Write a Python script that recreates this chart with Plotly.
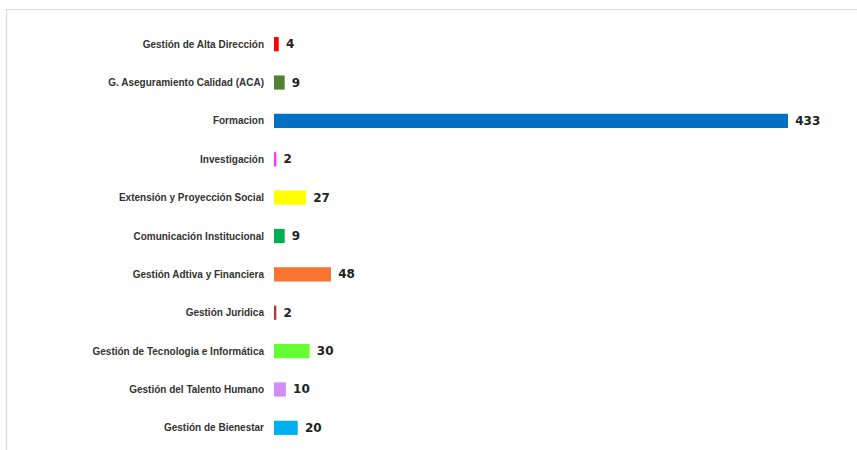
import plotly.graph_objects as go

categories = [
    "Gestión de Alta Dirección",
    "G. Aseguramiento Calidad (ACA)",
    "Formacion",
    "Investigación",
    "Extensión y Proyección Social",
    "Comunicación Institucional",
    "Gestión Adtiva y Financiera",
    "Gestión Juridica",
    "Gestión de Tecnologia e Informática",
    "Gestión del Talento Humano",
    "Gestión de Bienestar",
]
values = [4, 9, 433, 2, 27, 9, 48, 2, 30, 10, 20]
colors = ["#FF0000", "#548235", "#0070C0", "#FF33FF", "#FFFF00", "#00B050",
          "#F87230", "#B03A3A", "#66FF33", "#D38BF5", "#00B0F0"]

W, H = 857, 450
ml, mr, mt, mb = 274, 7, 25, 3
pw = W - ml - mr
ph = H - mt - mb
scale = 514 / 433.0
xmax = pw / scale

fig = go.Figure(go.Bar(
    y=categories, x=values, orientation="h",
    marker=dict(color=colors, line=dict(width=0)),
    text=[f" {v}" for v in values], textposition="outside",
    textfont=dict(family="DejaVu Sans", size=12, color="#222222", weight="bold"),
    cliponaxis=False, width=0.37,
))

def px_x(p):
    return (p - ml) / pw

def px_y(p):
    return 1 - (p - mt) / ph

fig.update_layout(
    width=W, height=H,
    margin=dict(l=ml, r=mr, t=mt, b=mb),
    paper_bgcolor="white", plot_bgcolor="white",
    showlegend=False,
    xaxis=dict(range=[0, xmax], visible=False, showgrid=False, zeroline=False),
    yaxis=dict(autorange="reversed", showgrid=False, zeroline=False, showline=False,
               ticks="", ticklabelstandoff=9,
               tickfont=dict(family="Liberation Sans", size=10, color="#333333", weight="bold")),
    shapes=[
        dict(type="line", xref="paper", yref="paper", x0=px_x(6.5), x1=px_x(6.5),
             y0=px_y(9), y1=px_y(452), line=dict(color="#D9D9D9", width=1.2)),
        dict(type="line", xref="paper", yref="paper", x0=px_x(6), x1=px_x(858),
             y0=px_y(9.5), y1=px_y(9.5), line=dict(color="#D9D9D9", width=1.2)),
    ],
)

fig.write_html("out.html", config={"displayModeBar": False},
               post_script="document.body.style.margin='0';document.body.style.overflow='hidden';")
